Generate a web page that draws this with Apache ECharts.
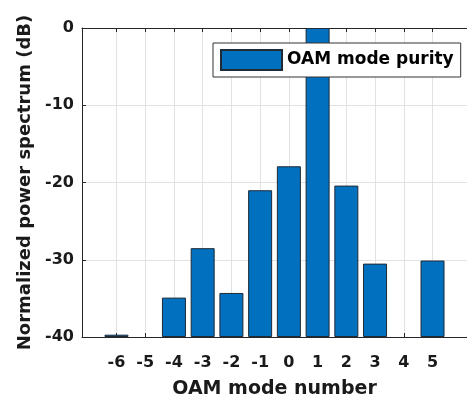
<!DOCTYPE html>
<html>
<head>
<meta charset="utf-8">
<script src="https://cdn.jsdelivr.net/npm/echarts@6/dist/echarts.min.js"></script>
<style>
  html, body { margin: 0; padding: 0; background: #fff; }
  #chart { width: 467px; height: 404px; }
</style>
</head>
<body>
<div id="chart"></div>
<script>
// OAM mode numbers (x) and normalized power (dB)
const modes = [-6, -5, -4, -3, -2, -1, 0, 1, 2, 3, 4, 5];
const purity = [-39.7, null, -34.9, -28.5, -34.3, -21.0, -17.9, 0, -20.4, -30.5, null, -30.1];
const yTicks = [-40, -30, -20, -10, 0];

const font = "DejaVu Sans";
const ink = "#1a1a1a";

const myChart = echarts.init(document.getElementById("chart"));
const seriesData = modes.map((m, i) => [m, purity[i]]);

const option = {
  animation: false,
  backgroundColor: "#fff",
  grid: { left: 82, top: 28, right: -10.5, bottom: 60 },
  legend: {
    left: 213,
    top: 43,
    padding: [6, 7, 6, 7],
    itemWidth: 61,
    itemHeight: 20,
    itemGap: 5,
    icon: "rect",
    backgroundColor: "#fff",
    borderColor: "#333",
    borderWidth: 1,
    borderRadius: 0,
    textStyle: { fontFamily: font, fontWeight: "bold", fontSize: 17, color: "#000" },
    data: ["OAM mode purity"],
  },
  xAxis: [
    {
      type: "value",
      min: -7.2,
      max: 6.2,
      name: "OAM mode number",
      nameLocation: "middle",
      nameGap: 43,
      nameTextStyle: { fontFamily: font, fontWeight: "bold", fontSize: 19, color: ink },
      axisLine: { onZero: false, lineStyle: { color: "#262626", width: 1 } },
      axisTick: { inside: true, length: 4, customValues: modes, lineStyle: { color: "#262626" } },
      axisLabel: { customValues: modes, margin: 18, fontFamily: font, fontWeight: "bold", fontSize: 16, color: ink },
      splitLine: { show: true, lineStyle: { color: "#e2e2e2" } },
    },
    {
      type: "value",
      position: "top",
      min: -7.2,
      max: 6.2,
      axisLine: { onZero: false, lineStyle: { color: "#262626", width: 1 } },
      axisTick: { inside: true, length: 4, customValues: modes, lineStyle: { color: "#262626" } },
      axisLabel: { show: false },
      splitLine: { show: false },
    },
  ],
  yAxis: {
    type: "value",
    min: -40,
    max: 0,
    interval: 10,
    startValue: -40,
    name: "Normalized power spectrum (dB)",
    nameLocation: "middle",
    nameGap: 42,
    nameTextStyle: { fontFamily: font, fontWeight: "bold", fontSize: 18, color: ink },
    axisLine: { show: true, onZero: false, lineStyle: { color: "#262626", width: 1 } },
    axisTick: { show: true, inside: true, length: 4, lineStyle: { color: "#262626" } },
    axisLabel: { margin: 8, fontFamily: font, fontWeight: "bold", fontSize: 16, color: ink },
    splitLine: { show: true, lineStyle: { color: "#e2e2e2" } },
  },
  series: [
    {
      name: "OAM mode purity",
      type: "bar",
      barWidth: 24,
      data: seriesData,
      itemStyle: { color: "#0070BF", borderColor: "#1e2a36", borderWidth: 1 },
    },
  ],
};
myChart.setOption(option);
</script>
</body>
</html>
